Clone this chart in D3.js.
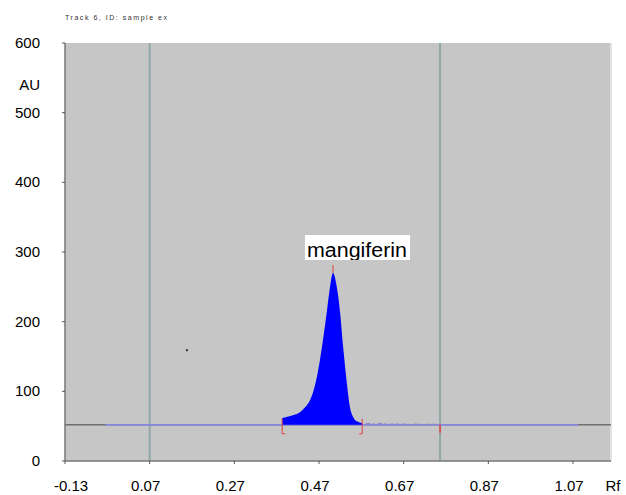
<!DOCTYPE html>
<html>
<head>
<meta charset="utf-8" />
<title>Densitogram</title>
<style>
	body { margin: 0; background: #fff; }
	text { font-family: 'Liberation Sans', Arial, sans-serif; fill: #000; }
</style>
</head>
<body>
<script src="https://cdn.jsdelivr.net/npm/d3@7"></script>
<script>
	// values
	var xTicks = [-0.13, 0.07, 0.27, 0.47, 0.67, 0.87, 1.07];
	var yTicks = [0, 100, 200, 300, 400, 500, 600];
	var baseline = 52;
	var peakRf = [0.383, 0.395, 0.41, 0.425, 0.437, 0.449, 0.457, 0.465, 0.477, 0.489, 0.496, 0.503, 0.512, 0.520, 0.527, 0.535, 0.543, 0.550, 0.555, 0.563, 0.572];
	var peakAu = [61.7, 63.5, 66, 70, 77, 87.6, 101, 120.6, 163.6, 216.7, 249.7, 269.8, 250, 212, 164, 116, 77.5, 64, 58.8, 56, 54.5];
	var tailRf = [0.58, 0.60, 0.62, 0.64, 0.66, 0.68, 0.70, 0.72, 0.74, 0.755];
	var tailAu = [54, 53.5, 54, 53, 53.5, 52.5, 53, 52.5, 53, 52.5];
	var trackLines = [0.07, 0.756];
	var peakStart = 0.383, peakEnd = 0.572, peakTop = 0.503, trackEnd = 0.756;
	var scanStart = -0.035, scanEnd = 1.082;
	var stray = [{rf: 0.158, au: 159}];

	var width = 626, height = 495;
	var svg = d3.select("body").append("svg")
		.attr("width", width).attr("height", height);

	var x = d3.scaleLinear().domain([-0.13, 1.07]).range([65, 573]);
	var y = d3.scaleLinear().domain([0, 600]).range([461, 43]);
	var xMax = x.invert(611);

	// title
	svg.append("text").attr("x", 65).attr("y", 20)
		.attr("textLength", 102).attr("lengthAdjust", "spacing")
		.style("font-size", "7px").style("fill", "#333")
		.text("Track 6, ID: sample ex");

	// plot background
	svg.append("rect")
		.attr("x", x(-0.13)).attr("y", y(600))
		.attr("width", x(xMax) - x(-0.13)).attr("height", y(0) - y(600))
		.attr("fill", "#c6c6c6");
	svg.append("line")
		.attr("x1", x(xMax)).attr("x2", x(xMax)).attr("y1", y(600)).attr("y2", y(0))
		.attr("stroke", "#e2e2e2").attr("stroke-width", 2);

	// track lines
	svg.selectAll(".track").data(trackLines).enter().append("line")
		.attr("x1", d => x(d)).attr("x2", d => x(d))
		.attr("y1", y(600)).attr("y2", y(0))
		.attr("stroke", "#8ea7a7").attr("stroke-width", 2);

	// baseline
	svg.append("line")
		.attr("x1", x(-0.13)).attr("x2", x(xMax))
		.attr("y1", y(baseline)).attr("y2", y(baseline))
		.attr("stroke", "#6e6e6e").attr("stroke-width", 1.5);
	svg.append("line")
		.attr("x1", x(scanStart)).attr("x2", x(scanEnd))
		.attr("y1", y(baseline)).attr("y2", y(baseline))
		.attr("stroke", "#8585e8").attr("stroke-width", 1.5);

	// peak
	var peak = peakRf.map((d, i) => ({rf: d, au: peakAu[i]}));
	var area = d3.area()
		.x(d => x(d.rf)).y0(y(baseline)).y1(d => y(d.au))
		.curve(d3.curveMonotoneX);
	svg.append("path").datum(peak).attr("d", area).attr("fill", "#0000ff");

	// trace after the peak
	var tail = tailRf.map((d, i) => ({rf: d, au: tailAu[i]}));
	svg.append("path").datum(tail)
		.attr("d", d3.line().x(d => x(d.rf)).y(d => y(d.au)))
		.attr("fill", "none").attr("stroke", "#8a8ac8")
		.attr("stroke-width", 1).attr("stroke-dasharray", "5,2,2,3");

	// integration marks
	var red = "#e04040";
	function bracket(rf, dir) {
		var px = x(rf);
		svg.append("path")
			.attr("d", "M" + px + "," + (y(baseline) - 6) + "V" + (y(baseline) + 9) + "h" + (3 * dir))
			.attr("fill", "none").attr("stroke", red).attr("stroke-width", 1);
	}
	bracket(peakStart, 1);
	bracket(peakEnd, -1);
	svg.append("line")
		.attr("x1", x(peakTop)).attr("x2", x(peakTop))
		.attr("y1", y(d3.max(peakAu)) - 8).attr("y2", y(d3.max(peakAu)))
		.attr("stroke", red).attr("stroke-width", 1);
	svg.append("line")
		.attr("x1", x(trackEnd)).attr("x2", x(trackEnd))
		.attr("y1", y(baseline)).attr("y2", y(baseline) + 8)
		.attr("stroke", red).attr("stroke-width", 1.5);

	// stray point
	svg.selectAll(".stray").data(stray).enter().append("rect")
		.attr("x", d => x(d.rf) - 1).attr("y", d => y(d.au) - 1)
		.attr("width", 2).attr("height", 2).attr("fill", "#333");

	// peak label
	var lx = x(peakTop) + 24, ly = 235;
	svg.append("clipPath").attr("id", "lab")
		.append("rect").attr("x", lx - 52).attr("y", ly).attr("width", 105).attr("height", 25);
	svg.append("rect").attr("x", lx - 52).attr("y", ly).attr("width", 105).attr("height", 25)
		.attr("fill", "#fff");
	svg.append("text").attr("x", lx).attr("y", ly + 22)
		.attr("text-anchor", "middle").attr("clip-path", "url(#lab)")
		.attr("textLength", 100).attr("lengthAdjust", "spacingAndGlyphs")
		.style("font-size", "20px")
		.text("mangiferin");

	// axes
	var axis = svg.append("g");
	axis.append("line")
		.attr("x1", x(-0.13)).attr("x2", x(-0.13)).attr("y1", y(600)).attr("y2", y(0))
		.attr("stroke", "#777").attr("stroke-width", 1.5);
	axis.append("line")
		.attr("x1", x(-0.13)).attr("x2", x(xMax)).attr("y1", y(0)).attr("y2", y(0))
		.attr("stroke", "#777").attr("stroke-width", 1.5);

	axis.selectAll(".yt").data(yTicks).enter().append("line")
		.attr("x1", x(-0.13) - 3).attr("x2", x(-0.13))
		.attr("y1", d => y(d)).attr("y2", d => y(d))
		.attr("stroke", "#555");
	axis.selectAll(".yl").data(yTicks).enter().append("text")
		.attr("x", 40).attr("y", d => y(d) + 5)
		.attr("text-anchor", "end").style("font-size", "15px")
		.text(d => d);
	axis.append("text").attr("x", 40).attr("y", 90)
		.attr("text-anchor", "end").style("font-size", "15px").text("AU");

	axis.selectAll(".xt").data(xTicks).enter().append("line")
		.attr("x1", d => x(d)).attr("x2", d => x(d))
		.attr("y1", y(0)).attr("y2", y(0) + 3)
		.attr("stroke", "#555");
	axis.selectAll(".xl").data(xTicks).enter().append("text")
		.attr("x", d => x(d) + (d < 0 ? 6 : -4)).attr("y", 491)
		.attr("text-anchor", "middle").style("font-size", "15px")
		.text(d => d.toFixed(2));
	axis.append("text").attr("x", 613).attr("y", 491)
		.attr("text-anchor", "middle").style("font-size", "15px").text("Rf");
</script>
</body>
</html>
